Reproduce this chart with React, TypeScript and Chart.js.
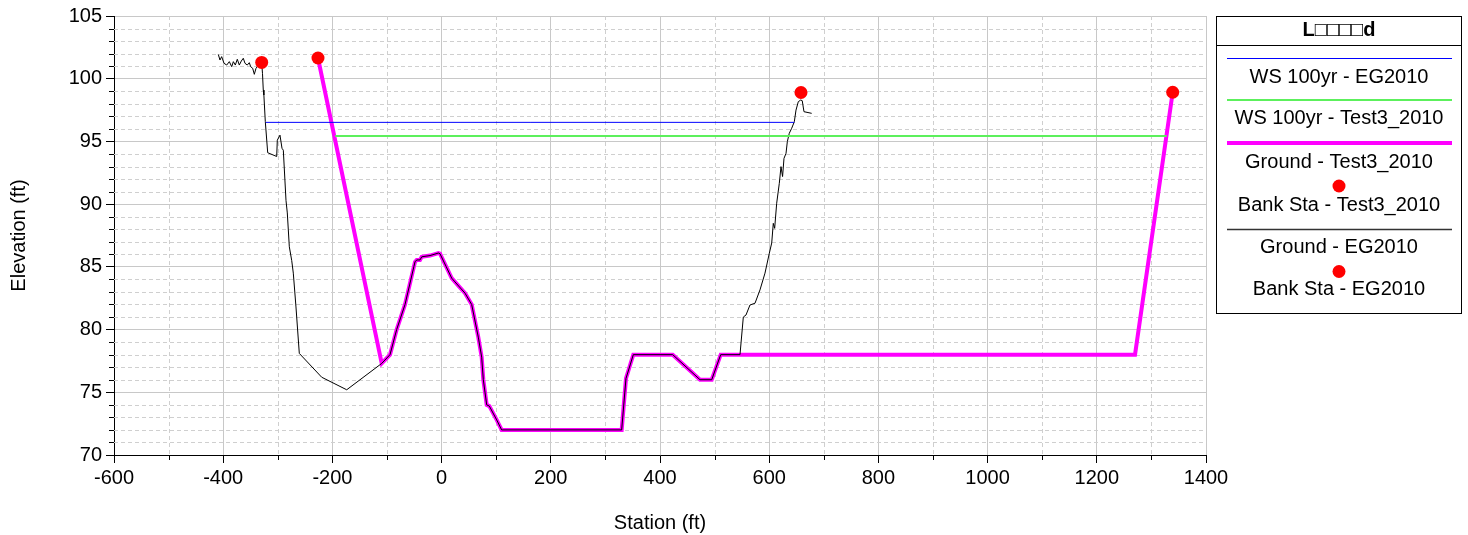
import { useEffect, useRef } from "react";
import { Chart, registerables } from "chart.js";

Chart.register(...registerables);

const FONT = '"Liberation Sans", Arial, Helvetica, sans-serif';

// ---- Data (Station ft, Elevation ft) ----
const xTickValues = [-600, -400, -200, 0, 200, 400, 600, 800, 1000, 1200, 1400];
const yTickValues = [70, 75, 80, 85, 90, 95, 100, 105];

// EG2010 left overbank (ends at channel invert)
const egLeftSta = [-409, -405.9, -402.8, -398.5, -393.6, -388.8, -384.4, -381.4, -377.8, -374.2, -370.5, -366.8, -363.2, -360.1, -355.9, -352.2, -349.7, -346, -343, -339.9, -333.9, -329.5, -328, -326.6, -325.5, -322.9, -318.5, -302, -300.9, -296, -292.3, -289.9, -285, -282.6, -278.9, -274.5, -271.6, -266.7, -260.6, -219.6, -173.8, -109.7];
const egLeftElev = [101.94, 101.49, 101.76, 101.23, 101.09, 101.36, 100.96, 101.36, 101.09, 101.55, 101.09, 101.41, 101.63, 101.23, 101.09, 101.28, 100.96, 100.83, 100.35, 100.83, 101.17, 101.28, 100.4, 99.1, 98.7, 96.6, 94.1, 93.8, 95.1, 95.5, 94.45, 94.3, 90.3, 89.3, 86.6, 85.5, 84.5, 81.8, 78.1, 76.2, 75.2, 77.3];

// Shared main channel (both geometries)
const channelSta = [-94.5, -82.3, -67, -48.7, -45.6, -39.6, -36.4, -21.2, -6, -3, 18.5, 24.5, 42.9, 55.1, 67.2, 73.4, 76.4, 82.6, 87.4, 100.9, 110, 329.8, 337.7, 351.1, 423.3, 473.3, 494.7, 511.2, 546.5];
const channelElev = [78.0, 80.0, 82.0, 85.4, 85.55, 85.55, 85.8, 85.9, 86.1, 86.05, 84.1, 83.8, 82.9, 82.0, 79.4, 77.8, 76.0, 74.0, 73.9, 72.8, 72.0, 72.0, 76.1, 78.0, 78.0, 76.0, 76.0, 78.0, 78.0];

// EG2010 right overbank
const egRightSta = [552.6, 557.5, 564.8, 574, 583.1, 592.3, 600.2, 604.6, 607.5, 610, 613.7, 618.5, 621.6, 624.5, 627.1, 630.8, 633.2, 636.8, 641.2, 646, 649.1, 653.3, 657.7, 660.5, 663.7, 677.8];
const egRightElev = [81.0, 81.16, 81.96, 82.1, 83.16, 84.5, 86.08, 86.9, 88.47, 88.07, 90.07, 91.66, 92.99, 92.2, 93.65, 94.05, 94.98, 95.65, 96.05, 96.57, 97.5, 98.17, 98.3, 98.25, 97.37, 97.24];

// Test3_2010 overbanks
const t3LeftSta = [-226.4, -109.7];
const t3LeftElev = [101.65, 77.3];
const t3RightSta = [1270, 1339];
const t3RightElev = [78.0, 98.92];

// Bank stations
const bankT3Sta = [-226.4, 1339];
const bankT3Elev = [101.65, 98.92];
const bankEGSta = [-329.5, 658.2];
const bankEGElev = [101.3, 98.9];

// Water surfaces
const wsEGSta = [-322, 646];
const wsEGElev = [96.52, 96.52];
const wsT3Sta = [-195, 1328];
const wsT3Elev = [95.43, 95.43];

const pts = (xs: number[], ys: number[]) => xs.map((x, i) => ({ x, y: ys[i] }));

const legendItems = [
  { label: "WS 100yr - EG2010", kind: "line", color: "#0000ff", width: 1 },
  { label: "WS 100yr - Test3_2010", kind: "line", color: "#5cf05c", width: 2 },
  { label: "Ground - Test3_2010", kind: "line", color: "#ff00ff", width: 4 },
  { label: "Bank Sta - Test3_2010", kind: "dot", color: "#ff0000", width: 0 },
  { label: "Ground - EG2010", kind: "line", color: "#333333", width: 1.5 },
  { label: "Bank Sta - EG2010", kind: "dot", color: "#ff0000", width: 0 },
];

const minorGridPlugin = {
  id: "minorGrid",
  beforeDatasetsDraw(chart: any) {
    const { ctx, chartArea, scales } = chart;
    const xs = scales.x;
    const ys = scales.y;
    ctx.save();
    ctx.lineWidth = 1;
    for (let v = -500; v <= 1300; v += 200) {
      const px = Math.round(xs.getPixelForValue(v)) + 0.5;
      ctx.strokeStyle = "#cfcfcf";
      ctx.setLineDash([4, 3]);
      ctx.beginPath();
      ctx.moveTo(px, chartArea.top);
      ctx.lineTo(px, chartArea.bottom);
      ctx.stroke();
      ctx.setLineDash([]);
      ctx.strokeStyle = "#000";
      ctx.beginPath();
      ctx.moveTo(px, chartArea.bottom);
      ctx.lineTo(px, chartArea.bottom + 5);
      ctx.stroke();
    }
    for (let v = 71; v <= 104; v += 1) {
      if (v % 5 === 0) continue;
      const py = Math.round(ys.getPixelForValue(v)) + 0.5;
      ctx.strokeStyle = "#cfcfcf";
      ctx.setLineDash([4, 3]);
      ctx.beginPath();
      ctx.moveTo(chartArea.left, py);
      ctx.lineTo(chartArea.right, py);
      ctx.stroke();
      ctx.setLineDash([]);
      ctx.strokeStyle = "#000";
      ctx.beginPath();
      ctx.moveTo(chartArea.left - 5, py);
      ctx.lineTo(chartArea.left, py);
      ctx.stroke();
    }
    ctx.restore();
  },
};

const boxLegendPlugin = {
  id: "boxLegend",
  afterDraw(chart: any) {
    const { ctx } = chart;
    const left = 1216.5, right = 1461.5, top = 16.5, bottom = 313.5;
    const cx = (left + right) / 2;
    ctx.save();
    ctx.fillStyle = "#fff";
    ctx.fillRect(left, top, right - left, bottom - top);
    ctx.strokeStyle = "#000";
    ctx.lineWidth = 1;
    ctx.strokeRect(left, top, right - left, bottom - top);
    ctx.beginPath();
    ctx.moveTo(left, 45.5);
    ctx.lineTo(right, 45.5);
    ctx.stroke();
    ctx.fillStyle = "#000";
    ctx.textAlign = "center";
    ctx.textBaseline = "middle";
    ctx.font = `bold 20px ${FONT}`;
    ctx.fillText("L\u25A1\u25A1\u25A1\u25A1d", cx, 30);
    ctx.font = `20px ${FONT}`;
    const symY = [58, 100, 143, 186, 229, 271.5];
    const textY = [77, 118, 162, 205, 247, 289];
    legendItems.forEach((it, i) => {
      if (it.kind === "line") {
        ctx.strokeStyle = it.color;
        ctx.lineWidth = it.width;
        ctx.beginPath();
        ctx.moveTo(1227, symY[i] + (it.width % 2 ? 0.5 : 0));
        ctx.lineTo(1452, symY[i] + (it.width % 2 ? 0.5 : 0));
        ctx.stroke();
      } else {
        ctx.fillStyle = it.color;
        ctx.beginPath();
        ctx.arc(cx, symY[i], 6.5, 0, Math.PI * 2);
        ctx.fill();
      }
      ctx.fillStyle = "#000";
      ctx.fillText(it.label, cx, textY[i]);
    });
    ctx.restore();
  },
};

export default function App() {
  const ref = useRef<HTMLCanvasElement | null>(null);
  useEffect(() => {
    document.body.style.margin = "0";
    const canvas = ref.current;
    if (!canvas) return;
    const chart = new Chart(canvas, {
      type: "line",
      data: {
        datasets: [
          {
            label: "Bank Sta - Test3_2010",
            data: pts(bankT3Sta, bankT3Elev),
            showLine: false,
            pointRadius: 6.5,
            pointBackgroundColor: "#ff0000",
            pointBorderWidth: 0,
            borderColor: "#ff0000",
            order: 0,
          },
          {
            label: "Bank Sta - EG2010",
            data: pts(bankEGSta, bankEGElev),
            showLine: false,
            pointRadius: 6.5,
            pointBackgroundColor: "#ff0000",
            pointBorderWidth: 0,
            borderColor: "#ff0000",
            order: 0,
          },
          {
            label: "WS 100yr - EG2010",
            data: pts(wsEGSta, wsEGElev),
            borderColor: "#0000ff",
            borderWidth: 1,
            pointRadius: 0,
            order: 1,
          },
          {
            label: "WS 100yr - Test3_2010",
            data: pts(wsT3Sta, wsT3Elev),
            borderColor: "#5cf05c",
            borderWidth: 2,
            pointRadius: 0,
            order: 2,
          },
          {
            label: "Ground - EG2010",
            data: pts(
              [...egLeftSta, ...channelSta, ...egRightSta],
              [...egLeftElev, ...channelElev, ...egRightElev]
            ),
            borderColor: "#000000",
            borderWidth: 1,
            pointRadius: 0,
            order: 3,
          },
          {
            label: "Ground - Test3_2010",
            data: pts(
              [...t3LeftSta, ...channelSta, ...t3RightSta],
              [...t3LeftElev, ...channelElev, ...t3RightElev]
            ),
            borderColor: "#ff00ff",
            borderWidth: 4,
            pointRadius: 0,
            order: 4,
          },
        ],
      },
      options: {
        animation: false,
        responsive: false,
        parsing: false as any,
        layout: { padding: { left: 0, top: 16, right: 262, bottom: 0 } },
        plugins: { legend: { display: false }, tooltip: { enabled: false } },
        elements: { line: { tension: 0 } },
        scales: {
          x: {
            type: "linear",
            min: -600,
            max: 1400,
            afterBuildTicks: (s: any) => {
              s.ticks = xTickValues.map((v) => ({ value: v }));
            },
            afterFit: (s: any) => {
              s.height = 80;
            },
            ticks: {
              font: { family: FONT, size: 20 },
              color: "#000",
              padding: 3,
              maxRotation: 0,
              autoSkip: false,
              callback: (v: any) => String(v),
            },
            grid: { color: "#c8c8c8", lineWidth: 1, tickColor: "#000", tickLength: 8 },
            border: { display: true, color: "#000", width: 1 },
            title: {
              display: true,
              text: "Station (ft)",
              font: { family: FONT, size: 20 },
              color: "#000",
              padding: { top: 2, bottom: 0 },
            },
          },
          y: {
            type: "linear",
            min: 70,
            max: 105,
            afterBuildTicks: (s: any) => {
              s.ticks = yTickValues.map((v) => ({ value: v }));
            },
            afterFit: (s: any) => {
              s.width = 114;
            },
            ticks: {
              font: { family: FONT, size: 20 },
              color: "#000",
              padding: 4,
              autoSkip: false,
              callback: (v: any) => String(v),
            },
            grid: { color: "#c8c8c8", lineWidth: 1, tickColor: "#000", tickLength: 8 },
            border: { display: true, color: "#000", width: 1 },
            title: {
              display: true,
              text: "Elevation (ft)",
              font: { family: FONT, size: 20 },
              color: "#000",
              padding: { top: 7, bottom: 0 },
            },
          },
        },
      },
      plugins: [minorGridPlugin, boxLegendPlugin],
    } as any);
    return () => chart.destroy();
  }, []);
  return (
    <div style={{ position: "absolute", left: 0, top: 0, width: 1468, height: 535, background: "#fff" }}>
      <canvas ref={ref} width={1468} height={535} />
    </div>
  );
}
